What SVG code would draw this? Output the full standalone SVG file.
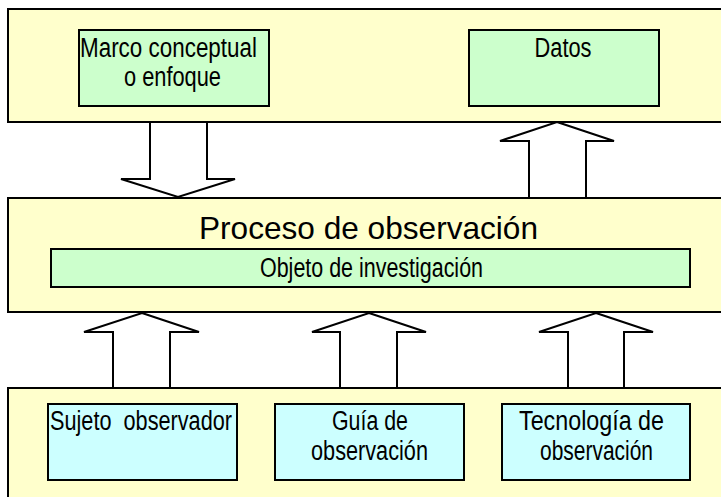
<svg xmlns="http://www.w3.org/2000/svg" width="721" height="497" viewBox="0 0 721 497">
<style>
.band{fill:#FFFFCC;stroke:#000;stroke-width:2}
.green{fill:#CCFFCC;stroke:#000;stroke-width:2}
.cyan{fill:#CCFFFF;stroke:#000;stroke-width:2}
.arrow{fill:#FFFFFF;stroke:#000;stroke-width:2;stroke-linejoin:miter}
.lbl{font-family:"Liberation Sans Narrow","Liberation Sans",Arial,sans-serif;font-size:27px;fill:#000;text-anchor:middle}
.big{font-family:"Liberation Sans",Arial,sans-serif;font-size:32px;fill:#000;text-anchor:middle}
</style>
<rect width="721" height="497" fill="#FFFFFF"/>
<g id="band-top">
<rect class="band" x="8" y="9" width="730" height="113"/>
</g>
<g id="marco">
<rect class="green" x="79" y="30" width="190" height="76"/>
<text class="lbl" x="168.5" y="57" textLength="177" lengthAdjust="spacingAndGlyphs">Marco conceptual</text>
<text class="lbl" x="172.5" y="86" textLength="97" lengthAdjust="spacingAndGlyphs">o enfoque</text>
</g>
<g id="datos">
<rect class="green" x="469" y="30" width="190" height="76"/>
<text class="lbl" x="563" y="57" textLength="57" lengthAdjust="spacingAndGlyphs">Datos</text>
</g>
<g id="band-middle">
<rect class="band" x="8" y="198" width="730" height="114"/>
<text class="big" x="368.5" y="239" textLength="339" lengthAdjust="spacingAndGlyphs">Proceso de observación</text>
</g>
<g id="objeto">
<rect class="green" x="51" y="249" width="639" height="38"/>
<text class="lbl" x="371.5" y="277" textLength="223" lengthAdjust="spacingAndGlyphs">Objeto de investigación</text>
</g>
<g id="band-bottom">
<rect class="band" x="8" y="388" width="730" height="120"/>
</g>
<g id="sujeto">
<rect class="cyan" x="48" y="404" width="189" height="76"/>
<text class="lbl" x="141" y="430" textLength="182" lengthAdjust="spacingAndGlyphs">Sujeto&#160; observador</text>
</g>
<g id="guia">
<rect class="cyan" x="275" y="404" width="189" height="76"/>
<text class="lbl" x="370" y="430" textLength="76" lengthAdjust="spacingAndGlyphs">Guía de</text>
<text class="lbl" x="369.5" y="460" textLength="117" lengthAdjust="spacingAndGlyphs">observación</text>
</g>
<g id="tecnologia">
<rect class="cyan" x="502" y="404" width="188" height="76"/>
<text class="lbl" x="591.5" y="430" textLength="145" lengthAdjust="spacingAndGlyphs">Tecnología de</text>
<text class="lbl" x="596.5" y="460" textLength="113" lengthAdjust="spacingAndGlyphs">observación</text>
</g>
<g id="connectors">
<polygon class="arrow" points="150,122 207,122 207,179 235,179 178,197 121,179 150,179"/>
<polygon class="arrow" points="557,122 614,141 586,141 586,198 529,198 529,141 500,141"/>
<polygon class="arrow" points="142,313 199,332 170,332 170,388 113,388 113,332 84,332"/>
<polygon class="arrow" points="369,313 426,332 397,332 397,388 340,388 340,332 312,332"/>
<polygon class="arrow" points="596,313 653,332 624,332 624,388 568,388 568,332 539,332"/>
</g>
</svg>
